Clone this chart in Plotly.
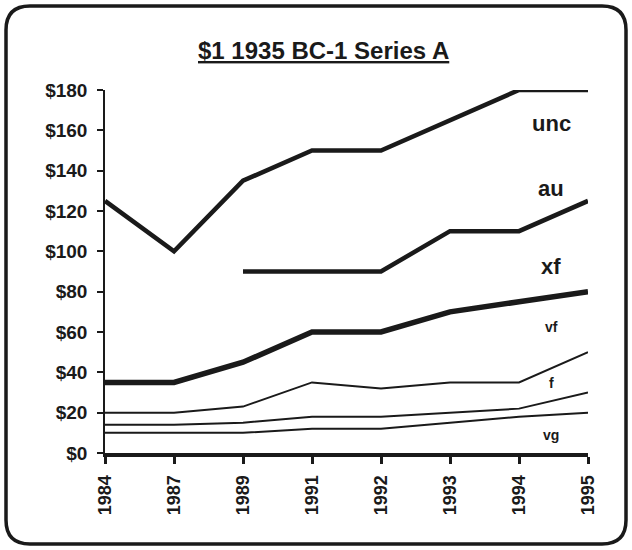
import plotly.graph_objects as go

years = ["1984", "1987", "1989", "1991", "1992", "1993", "1994", "1995"]
unc = [125, 100, 135, 150, 150, 165, 180, 180]
au = [None, None, 90, 90, 90, 110, 110, 125]
xf = [35, 35, 45, 60, 60, 70, 75, 80]
vf = [20, 20, 23, 35, 32, 35, 35, 50]
f = [14, 14, 15, 18, 18, 20, 22, 30]
vg = [10, 10, 10, 12, 12, 15, 18, 20]
y_ticks = [0, 20, 40, 60, 80, 100, 120, 140, 160, 180]
y_tick_text = ["$" + str(v) for v in y_ticks]

series = [
    ("unc", unc, 4.5),
    ("au", au, 4.5),
    ("xf", xf, 5.5),
    ("vf", vf, 2),
    ("f", f, 2),
    ("vg", vg, 2),
]

FONT = "Arial, 'Liberation Sans', sans-serif"
INK = "#1a1a1a"

L, R, T, B = 105, 44, 90, 97
W, H = 632, 550
pw, ph = W - L - R, H - T - B


def px(xp):
    return (xp - L) / pw


def py(yp):
    return (H - B - yp) / ph


fig = go.Figure()
for name, vals, w in series:
    fig.add_trace(go.Scatter(
        x=years, y=vals, mode="lines", name=name,
        line=dict(color=INK, width=w),
        cliponaxis=False, connectgaps=False, showlegend=False,
        hoverinfo="skip",
    ))

# series labels (text, pixel y centre, font size)
labels = [
    ("unc", 124, 22), ("au", 188, 22), ("xf", 266, 22),
    ("vf", 327, 14), ("f", 383, 14), ("vg", 435, 14),
]
for txt, ypix, sz in labels:
    fig.add_annotation(x=px(551), y=py(ypix), xref="paper", yref="paper",
                       xanchor="center", yanchor="middle",
                       text="<b>" + txt + "</b>", showarrow=False,
                       font=dict(family=FONT, size=sz, color=INK))

# Title
fig.add_annotation(x=px(323), y=py(50), xref="paper", yref="paper",
                   xanchor="center", yanchor="middle",
                   text="<b><u>$1 1935 BC-1 Series A</u></b>",
                   showarrow=False, font=dict(family=FONT, size=24, color=INK))

# rounded frame
x0, x1, y0, y1, r = 6, 626, 6, 544, 24
path = (
    f"M {px(x0 + r)},{py(y0)} L {px(x1 - r)},{py(y0)} "
    f"Q {px(x1)},{py(y0)} {px(x1)},{py(y0 + r)} "
    f"L {px(x1)},{py(y1 - r)} Q {px(x1)},{py(y1)} {px(x1 - r)},{py(y1)} "
    f"L {px(x0 + r)},{py(y1)} Q {px(x0)},{py(y1)} {px(x0)},{py(y1 - r)} "
    f"L {px(x0)},{py(y0 + r)} Q {px(x0)},{py(y0)} {px(x0 + r)},{py(y0)} Z"
)
fig.add_shape(type="path", path=path, xref="paper", yref="paper",
              line=dict(color=INK, width=3.5), layer="above")

fig.update_layout(
    width=W, height=H,
    margin=dict(l=L, r=R, t=T, b=B, autoexpand=False),
    paper_bgcolor="white", plot_bgcolor="white",
    font=dict(family=FONT, color=INK),
    hovermode=False,
    xaxis=dict(
        type="category", range=[0, 7], showgrid=False, zeroline=False,
        showline=True, linecolor=INK, linewidth=4,
        ticks="outside", ticklen=7, tickwidth=3, tickcolor=INK,
        tickangle=-90, tickfont=dict(family=FONT, size=18, color=INK),
        tickprefix="<b>", ticksuffix="</b>", ticklabelstandoff=4,
        automargin=False,
    ),
    yaxis=dict(
        range=[0, 180], showgrid=False, zeroline=False,
        showline=True, linecolor=INK, linewidth=1.5,
        ticks="outside", ticklen=6, tickwidth=1.5, tickcolor=INK,
        tickvals=y_ticks, ticktext=["<b>" + t + "</b>" for t in y_tick_text],
        tickfont=dict(family=FONT, size=19, color=INK), ticklabelstandoff=6,
        automargin=False,
    ),
)

fig.write_html(
    "out.html",
    config={"displayModeBar": False},
    post_script="document.body.style.margin='0';document.body.style.overflow='hidden';",
)
